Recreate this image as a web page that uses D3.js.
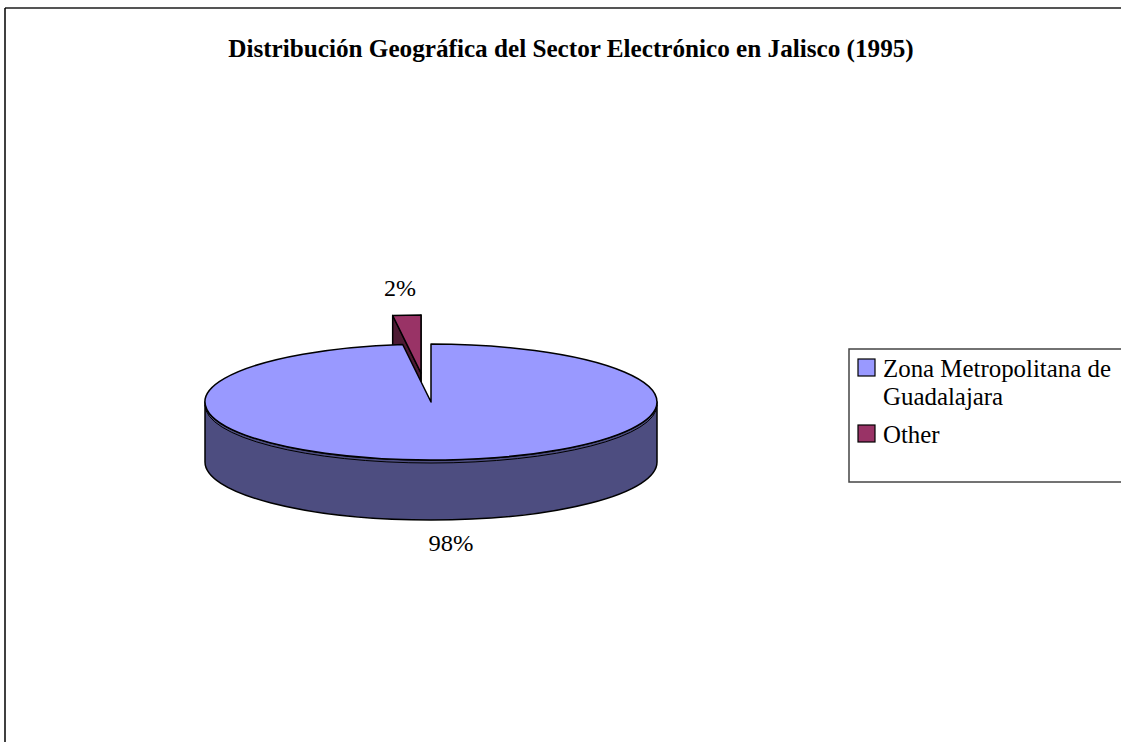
<!DOCTYPE html>
<html>
<head>
<meta charset="utf-8">
<script src="https://cdn.jsdelivr.net/npm/d3@7"></script>
<style>
  html, body { margin: 0; padding: 0; background: #fff; }
  svg { display: block; font-family: "Liberation Serif", "Times New Roman", serif; }
</style>
</head>
<body>
<svg id="chart" width="1121" height="742"></svg>
<script>
const TITLE = 'Distribución Geográfica del Sector Electrónico en Jalisco (1995)';
const categories = ['Zona Metropolitana de Guadalajara', 'Other'];
const legendLines = [['Zona Metropolitana de', 'Guadalajara'], ['Other']];
const values = [98, 2];
const labels = ['98%', '2%'];

const topColors  = ['#9999ff', '#993366'];
const sideColors = ['#4d4d80', '#4d1a33'];

const svg = d3.select('#chart');

// small horizontal fit so text widths match the original
function fit(sel, anchorX, targetW) {
  const w = sel.node().getComputedTextLength();
  const s = targetW / w;
  sel.attr('transform', `translate(${anchorX},0) scale(${s},1) translate(${-anchorX},0)`);
  return s;
}

// frame (only top and left edges fall inside the picture)
svg.append('line').attr('x1', 5).attr('y1', 8).attr('x2', 1121).attr('y2', 8)
  .attr('stroke', '#555').attr('stroke-width', 2);
svg.append('line').attr('x1', 5).attr('y1', 8).attr('x2', 5).attr('y2', 742)
  .attr('stroke', '#000').attr('stroke-width', 1.5);

const title = svg.append('text')
  .attr('x', 571).attr('y', 57)
  .attr('text-anchor', 'middle')
  .attr('font-size', 25).attr('font-weight', 'bold')
  .text(TITLE);
fit(title, 571, 686);

// pie geometry (ellipse projection)
const cx = 431, cy = 402, rx = 226, ry = 58, depth = 60;
const explode = [[0, 0], [-10, -29]];

const pie = d3.pie().sort(null).value(d => d)(values);

function pt(a, ox, oy, dz) {
  return [cx + ox + rx * Math.sin(a), cy + oy + dz - ry * Math.cos(a)];
}

function topPath(a0, a1, ox, oy) {
  const p0 = pt(a0, ox, oy, 0), p1 = pt(a1, ox, oy, 0);
  const large = (a1 - a0) > Math.PI ? 1 : 0;
  return `M${cx + ox},${cy + oy}L${p0}A${rx},${ry} 0 ${large} 1 ${p1}Z`;
}

function rimPath(a0, a1, ox, oy) {
  const lo = Math.max(a0, Math.PI / 2), hi = Math.min(a1, 3 * Math.PI / 2);
  if (hi <= lo) return null;
  const p0 = pt(lo, ox, oy, 0), p1 = pt(hi, ox, oy, 0);
  const q1 = pt(hi, ox, oy, depth), q0 = pt(lo, ox, oy, depth);
  return `M${p0}A${rx},${ry} 0 0 1 ${p1}L${q1}A${rx},${ry} 0 0 0 ${q0}Z`;
}

function cutPath(a, ox, oy) {
  const p = pt(a, ox, oy, 0), q = pt(a, ox, oy, depth);
  return `M${cx + ox},${cy + oy}L${p}L${q}L${cx + ox},${cy + oy + depth}Z`;
}

const g = svg.append('g').attr('stroke', '#000').attr('stroke-width', 1.5)
  .attr('stroke-linejoin', 'round');

// back slice first (exploded "Other")
const o = pie[1], [oxo, oyo] = explode[1];
g.append('path').attr('d', cutPath(o.startAngle, oxo, oyo)).attr('fill', sideColors[1]);
g.append('path').attr('d', cutPath(o.endAngle, oxo, oyo)).attr('fill', sideColors[1]);
g.append('path').attr('d', topPath(o.startAngle, o.endAngle, oxo, oyo)).attr('fill', topColors[1]);

// main slice
const z = pie[0], [oxz, oyz] = explode[0];
const rp = rimPath(z.startAngle, z.endAngle, oxz, oyz);
if (rp) g.append('path').attr('d', rp).attr('fill', sideColors[0]);
g.append('path').attr('d', topPath(z.startAngle, z.endAngle, oxz, oyz)).attr('fill', topColors[0]);

// thin line just under the front rim of the top face
const h0 = pt(Math.PI / 2, 0, 3, 0), h1 = pt(3 * Math.PI / 2, 0, 3, 0);
svg.append('path')
  .attr('d', `M${h0}A${rx},${ry} 0 0 1 ${h1}`)
  .attr('fill', 'none').attr('stroke', '#000').attr('stroke-width', 1);

// data labels
const l2 = svg.append('text').attr('x', 400).attr('y', 296).attr('text-anchor', 'middle')
  .attr('font-size', 24).text(labels[1]);
fit(l2, 400, 32);
const l98 = svg.append('text').attr('x', 451).attr('y', 551).attr('text-anchor', 'middle')
  .attr('font-size', 24).text(labels[0]);
fit(l98, 451, 45);

// legend
const lg = svg.append('g');
lg.append('rect').attr('x', 849).attr('y', 349).attr('width', 290).attr('height', 133)
  .attr('fill', '#fff').attr('stroke', '#444').attr('stroke-width', 1.5);

const rows = [{ y: 359, lines: legendLines[0] }, { y: 425, lines: legendLines[1] }];
let legendScale = null;
rows.forEach((r, i) => {
  lg.append('rect').attr('x', 858).attr('y', r.y).attr('width', 17).attr('height', 17)
    .attr('fill', topColors[i]).attr('stroke', '#000').attr('stroke-width', 1.2);
  r.lines.forEach((t, j) => {
    const tx = lg.append('text').attr('x', 883).attr('y', r.y + 18 + j * 28)
      .attr('font-size', 25).text(t);
    if (legendScale === null) legendScale = fit(tx, 883, 228);
    else tx.attr('transform', `translate(883,0) scale(${legendScale},1) translate(-883,0)`);
  });
});
</script>
</body>
</html>
